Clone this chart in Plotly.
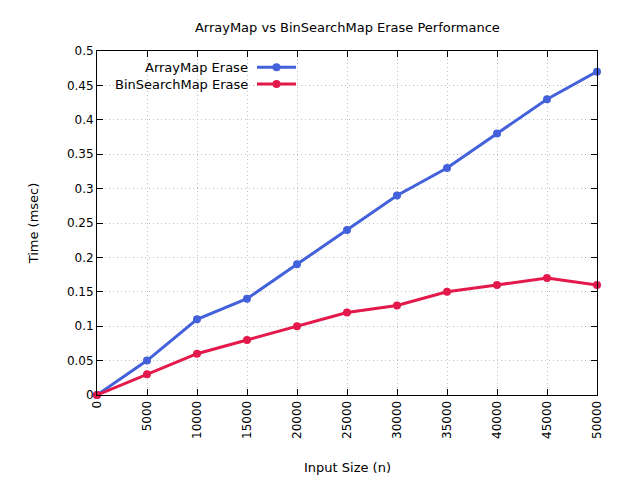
import plotly.graph_objects as go

# input sizes and timings (msec)
input_size = [0, 5000, 10000, 15000, 20000, 25000, 30000, 35000, 40000, 45000, 50000]
array_map = [0, 0.05, 0.11, 0.14, 0.19, 0.24, 0.29, 0.33, 0.38, 0.43, 0.47]
bin_search_map = [0, 0.03, 0.06, 0.08, 0.10, 0.12, 0.13, 0.15, 0.16, 0.17, 0.16]

series_names = ["ArrayMap Erase", "BinSearchMap Erase"]
series_colors = ["#4361DB", "#E3194B"]

FONT = "DejaVu Sans"

fig = go.Figure()
for name, ys, color in zip(series_names, [array_map, bin_search_map], series_colors):
    fig.add_trace(go.Scatter(
        x=input_size, y=ys, name=name, mode="lines+markers",
        line=dict(color=color, width=3),
        marker=dict(color=color, size=8),
        cliponaxis=False,
    ))

# gnuplot-style legend: text right-aligned, sample line on the right
legend_y = [0.953, 0.904]
for name, color, ly in zip(series_names, series_colors, legend_y):
    fig.add_annotation(
        x=0.305, y=ly, xref="paper", yref="paper", text=name,
        showarrow=False, xanchor="right", yanchor="middle",
        font=dict(family=FONT, size=13, color="black"),
    )
    fig.add_shape(type="line", xref="paper", yref="paper",
                  x0=0.32, x1=0.398, y0=ly, y1=ly,
                  line=dict(color=color, width=3))
    fig.add_shape(type="circle", xref="paper", yref="paper",
                  x0=0.359 - 0.008, x1=0.359 + 0.008,
                  y0=ly - 0.0116, y1=ly + 0.0116,
                  fillcolor=color, line=dict(color=color, width=0))

# x axis title as annotation so it sits exactly where gnuplot put it
fig.add_annotation(
    x=0.5, y=-0.212, xref="paper", yref="paper", text="Input Size (n)",
    showarrow=False, xanchor="center", yanchor="middle",
    font=dict(family=FONT, size=13, color="black"),
)

axis_common = dict(
    showline=True, linecolor="black", linewidth=1, mirror="ticks",
    ticks="inside", ticklen=6, tickcolor="black",
    showgrid=True, gridcolor="#c0c0c0", griddash="1px,3px", gridwidth=1,
    zeroline=False, automargin=False,
    tickfont=dict(family=FONT, size=12, color="black"),
)

fig.update_xaxes(
    range=[0, 50000], dtick=5000, tickangle=-90, tickformat="d",
    **axis_common,
)
fig.update_yaxes(
    range=[0, 0.5], dtick=0.05,
    title=dict(text="Time (msec)", font=dict(family=FONT, size=13), standoff=25),
    **axis_common,
)

# page body has an 8px margin, so the figure is sized to fill the rest
fig.update_layout(
    width=632, height=472,
    margin=dict(l=89, r=43, t=43, b=85),
    plot_bgcolor="white", paper_bgcolor="white",
    showlegend=False,
    title=dict(text="ArrayMap vs BinSearchMap Erase Performance",
               x=0.537, xanchor="center", y=0.958, yanchor="middle",
               font=dict(family=FONT, size=13, color="black")),
    font=dict(family=FONT, size=12, color="black"),
)

fig.write_html("out.html")
